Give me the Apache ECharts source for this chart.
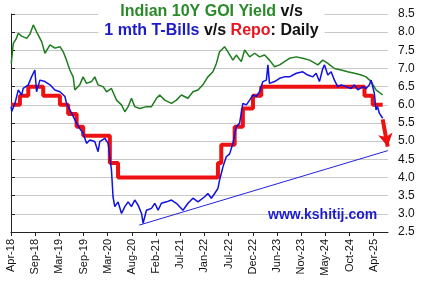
<!DOCTYPE html>
<html><head><meta charset="utf-8">
<script src="https://cdn.jsdelivr.net/npm/echarts@6/dist/echarts.min.js"></script>
<style>html,body{margin:0;padding:0;background:#fff}#c{width:423px;height:287px}</style>
</head><body><div id="c"></div>
<script>
// x-axis tick labels (one every 5.6 months from Apr-2018)
const tickLabels = ['Apr-18','Sep-18','Mar-19','Sep-19','Mar-20','Aug-20','Feb-21','Jul-21','Jan-22','Jul-22','Dec-22','Jun-23','Nov-23','May-24','Oct-24','Apr-25'];

// Indian 10Y GOI yield
const gsecDates = ['2018-04-03','2018-04-17','2018-05-05','2018-05-22','2018-06-15','2018-07-20','2018-08-13','2018-09-06','2018-09-29','2018-11-04','2018-11-27','2019-01-02','2019-02-06','2019-03-11','2019-04-04','2019-04-27','2019-05-20','2019-06-13','2019-06-25','2019-07-29','2019-08-22','2019-09-16','2019-10-21','2019-11-13','2019-12-06','2020-01-11','2020-02-05','2020-03-09','2020-04-14','2020-05-19','2020-06-12','2020-07-05','2020-07-28','2020-08-21','2020-09-26','2020-11-12','2020-12-17','2021-01-22','2021-02-14','2021-03-19','2021-05-06','2021-06-10','2021-07-15','2021-08-31','2021-10-05','2021-11-10','2021-12-14','2022-01-19','2022-02-24','2022-03-18','2022-04-10','2022-05-15','2022-06-08','2022-07-13','2022-08-06','2022-09-11','2022-10-04','2022-11-09','2022-12-14','2023-01-18','2023-02-23','2023-03-27','2023-05-02','2023-06-07','2023-07-11','2023-08-16','2023-10-03','2023-11-18','2024-01-05','2024-03-03','2024-04-07','2024-05-12','2024-06-28','2024-08-15','2024-09-30','2024-11-17','2025-01-04','2025-02-08','2025-03-13','2025-04-17','2025-06-03'];
const gsecValues = [7.14,7.69,7.80,7.97,7.89,7.83,7.95,8.20,8.01,7.74,7.42,7.65,7.56,7.60,7.46,7.23,6.96,6.77,6.41,6.55,6.77,6.59,6.64,6.77,6.55,6.50,6.36,6.45,6.13,6.00,5.81,5.95,6.18,5.95,5.90,5.95,5.95,6.18,6.27,6.13,6.04,6.13,6.27,6.18,6.36,6.41,6.55,6.77,6.91,7.14,7.46,7.60,7.46,7.23,7.37,7.19,7.51,7.32,7.42,7.32,7.37,7.23,7.05,7.10,7.19,7.28,7.32,7.28,7.23,7.10,7.23,7.14,7.00,6.96,6.91,6.87,6.82,6.77,6.64,6.41,6.27];

// 1 month T-Bill yield
const tbillDates = ['2018-04-02','2018-04-06','2018-04-29','2018-05-22','2018-06-15','2018-06-26','2018-08-01','2018-08-24','2018-09-17','2018-09-29','2018-10-22','2018-11-27','2019-01-02','2019-02-06','2019-03-11','2019-04-16','2019-04-27','2019-06-02','2019-07-07','2019-07-29','2019-08-22','2019-09-16','2019-10-09','2019-11-13','2019-12-06','2019-12-18','2020-01-23','2020-02-16','2020-03-09','2020-03-20','2020-04-02','2020-04-25','2020-05-19','2020-06-12','2020-07-05','2020-07-28','2020-08-21','2020-09-14','2020-10-08','2020-10-19','2020-11-12','2020-12-17','2021-01-10','2021-02-03','2021-02-26','2021-04-01','2021-05-06','2021-06-10','2021-07-26','2021-08-31','2021-10-05','2021-11-10','2021-12-27','2022-01-19','2022-02-13','2022-03-06','2022-03-29','2022-04-10','2022-04-22','2022-05-04','2022-05-27','2022-06-20','2022-07-13','2022-08-06','2022-08-29','2022-09-22','2022-10-16','2022-11-09','2022-12-02','2022-12-25','2023-01-18','2023-02-11','2023-03-05','2023-03-16','2023-03-27','2023-05-02','2023-06-07','2023-07-11','2023-08-16','2023-10-03','2023-11-18','2023-11-30','2023-12-23','2024-01-28','2024-02-21','2024-03-14','2024-04-07','2024-04-19','2024-05-12','2024-06-05','2024-06-28','2024-07-21','2024-08-15','2024-09-19','2024-10-24','2024-11-17','2024-12-10','2025-01-15','2025-02-08','2025-03-01','2025-03-13','2025-04-05','2025-04-17','2025-04-28','2025-05-10','2025-06-03'];
const tbillValues = [5.95,5.82,6.04,6.41,6.27,6.45,6.55,6.77,6.96,6.36,6.68,6.64,6.55,6.41,6.36,6.23,6.04,5.77,5.49,5.35,5.22,4.94,5.03,4.99,4.71,4.99,5.08,4.94,4.21,3.47,3.20,3.33,3.01,3.20,3.33,3.20,3.38,3.24,3.01,2.74,3.10,3.15,3.29,3.10,3.29,3.33,3.38,3.29,3.10,3.29,3.43,3.33,3.47,3.56,3.43,3.56,3.70,3.93,4.11,4.30,4.57,4.65,4.94,5.40,5.49,6.04,6.00,6.13,6.27,6.23,6.36,6.64,6.68,7.10,6.59,6.64,6.73,6.77,6.77,6.87,6.91,6.96,6.82,6.77,6.87,6.64,7.00,7.10,6.82,6.91,6.68,6.50,6.55,6.50,6.45,6.55,6.41,6.50,6.45,6.55,6.68,6.32,5.86,5.95,5.77,5.63];

// Repo rate (date of change -> new rate)
const repoDates = ['2018-04-01','2018-06-03','2018-08-01','2018-11-15','2019-03-11','2019-05-08','2019-07-07','2019-08-23','2020-02-28','2020-04-25','2022-03-29','2022-04-22','2022-07-25','2022-09-22','2022-12-02','2023-01-30','2025-01-27','2025-03-24','2025-06-03'];
const repoValues = [6.00,6.25,6.50,6.25,6.00,5.75,5.40,5.15,4.40,4.00,4.40,4.90,5.40,5.90,6.25,6.50,6.25,6.00,6.00];

// T-Bill support trendline and repo direction arrow
const trendDates = ['2020-09-22','2025-07-09'];
const trendValues = [2.69,4.74];
const arrowDates = ['2025-06-03','2025-07-08'];
const arrowValues = [5.60,4.85];

const yTicks = {min: 2.5, max: 8.5, step: 0.5};

// months elapsed since 1-Apr-2018
function toM(s){const p=s.split('-').map(Number);return (p[0]-2018)*12+(p[1]-4)+(p[2]-1)/30.4;}
const pairs=(d,v)=>d.map((s,i)=>[toM(s),v[i]]);
const xInterval = 5.6; // months between labelled ticks
const xMax = 87.3;

const chart = echarts.init(document.getElementById('c'), null, {renderer:'canvas'});
const F = 'Arial, "Liberation Sans", sans-serif';
chart.setOption({
  animation:false,
  backgroundColor:'#fff',
  title:{
    left:'center', top:1, padding:[1,6,1,6], backgroundColor:'#fff',
    text:'{g|Indian 10Y GOI Yield} {k|v/s}\n{b|1 mth T-Bills} {k|v/s} {r|Repo}{k|: Daily}',
    textStyle:{fontFamily:F,fontSize:16,fontWeight:'bold',lineHeight:19,
      rich:{
        g:{color:'#2a8a2a',fontFamily:F,fontSize:16,fontWeight:'bold',lineHeight:19},
        b:{color:'#1c1ccc',fontFamily:F,fontSize:16,fontWeight:'bold',lineHeight:19},
        r:{color:'#e8141e',fontFamily:F,fontSize:16,fontWeight:'bold',lineHeight:19},
        k:{color:'#111',fontFamily:F,fontSize:16,fontWeight:'bold',lineHeight:19}
      }}
  },
  graphic:[{type:'text',left:268,top:208,z:10,style:{text:'www.kshitij.com',fill:'#1c1ccc',font:'bold 14px '+F}}],
  grid:{left:11,right:35,top:14,bottom:55,containLabel:false},
  xAxis:{
    type:'value',min:0,max:xMax,interval:xInterval,
    axisLine:{show:true,onZero:false,lineStyle:{color:'#222',width:1}},
    axisTick:{show:true,length:4,lineStyle:{color:'#222'}},
    splitLine:{show:false},
    axisLabel:{rotate:90,margin:7,color:'#111',fontFamily:F,fontSize:11,showMaxLabel:false,
      formatter:v=>{const k=Math.round(v/xInterval);return (Math.abs(v-k*xInterval)<1e-3&&k<tickLabels.length)?tickLabels[k]:'';}}
  },
  yAxis:{
    type:'value',position:'right',min:yTicks.min,max:yTicks.max,interval:yTicks.step,
    axisLine:{show:true,lineStyle:{color:'#222',width:1}},
    axisTick:{show:true,length:4,lineStyle:{color:'#222'}},
    splitLine:{show:true,lineStyle:{color:'#c8c8c8',width:1}},
    axisLabel:{margin:10,color:'#111',fontFamily:F,fontSize:12,formatter:v=>v.toFixed(1)}
  },
  series:[
    {type:'line',name:'Trend',data:pairs(trendDates,trendValues),symbol:'none',lineStyle:{color:'#2222dd',width:1},z:1},
    {type:'line',name:'10Y',data:pairs(gsecDates,gsecValues),symbol:'none',lineStyle:{color:'#1f7d1f',width:1.5},z:2},
    {type:'line',name:'Repo',data:pairs(repoDates,repoValues),step:'end',symbol:'none',lineStyle:{color:'#ee1111',width:4},z:3,
      markLine:{silent:true,symbol:['none','arrow'],symbolSize:[11,13],label:{show:false},
        lineStyle:{color:'#ee1111',width:4,type:'solid'},
        data:[[{coord:[toM(arrowDates[0]),arrowValues[0]]},{coord:[toM(arrowDates[1]),arrowValues[1]]}]]}},
    {type:'line',name:'T-Bill',data:pairs(tbillDates,tbillValues),symbol:'none',lineStyle:{color:'#1010e0',width:1.5},z:4}
  ]
});
</script></body></html>
